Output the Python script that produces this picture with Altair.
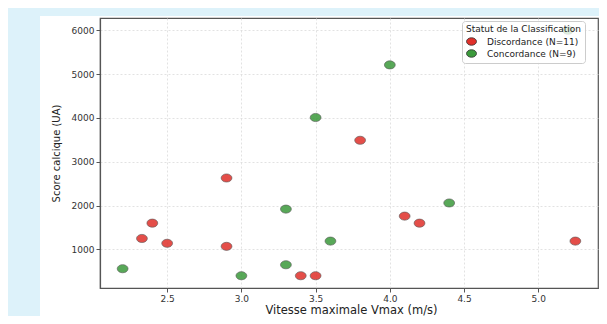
import altair as alt
import pandas as pd

# Data
disc_x = [2.33, 2.40, 2.50, 2.90, 2.90, 3.40, 3.50, 3.80, 4.10, 4.20, 5.25]
disc_y = [1250, 1600, 1140, 2630, 1070, 400, 400, 3490, 1760, 1600, 1190]
conc_x = [2.20, 3.00, 3.30, 3.30, 3.50, 3.60, 4.00, 4.40, 5.20]
conc_y = [560, 400, 1920, 650, 4010, 1190, 5210, 2060, 6000]
groups = ["Discordance (N=11)", "Concordance (N=9)"]
colors = ["#e0302a", "#3b9a3b"]
x_ticks = [2.5, 3.0, 3.5, 4.0, 4.5, 5.0]
y_ticks = [1000, 2000, 3000, 4000, 5000, 6000]

df = pd.DataFrame({
    "vmax": disc_x + conc_x,
    "score": disc_y + conc_y,
    "statut": [groups[0]] * len(disc_x) + [groups[1]] * len(conc_x),
})

ellipse = "M-1,0A1,0.75,0,1,0,1,0A1,0.75,0,1,0,-1,0Z"
W, H = 498, 270
PAD_L, PAD_T, PAD_R, PAD_B = 92, 10, 1, 28
FONT = "DejaVu Sans"
BLUE = "#ddf2fa"

one = pd.DataFrame({"k": [0]})
left_strip = alt.Chart(one).mark_rect(color=BLUE).encode(
    x=alt.value(-PAD_L), x2=alt.value(-60),
    y=alt.value(-PAD_T), y2=alt.value(H + PAD_B),
)
top_strip = alt.Chart(one).mark_rect(color=BLUE).encode(
    x=alt.value(-PAD_L), x2=alt.value(W + PAD_R),
    y=alt.value(-PAD_T), y2=alt.value(-2),
)

points = alt.Chart(df).mark_point(
    filled=True, shape=ellipse, size=118, opacity=0.85,
    stroke="#444", strokeWidth=0.7, strokeOpacity=0.9,
).encode(
    x=alt.X("vmax:Q", scale=alt.Scale(domain=[2.0475, 5.4025], nice=False, zero=False),
            axis=alt.Axis(title="Vitesse maximale Vmax (m/s)", values=x_ticks,
                          format=".1f", titleFontSize=11.5, titleX=W / 2 + 2, titleY=25,
                          titleAlign="center", titleBaseline="alphabetic")),
    y=alt.Y("score:Q", scale=alt.Scale(domain=[120, 6280], nice=False, zero=False),
            axis=alt.Axis(title="Score calcique (UA)", values=y_ticks,
                          format="d", titleFontSize=10, titleX=-44, titleY=H / 2,
                          titleAlign="center", titleBaseline="middle", titleAngle=-90)),
    color=alt.Color("statut:N", sort=groups,
                    scale=alt.Scale(domain=groups, range=colors),
                    legend=alt.Legend(title="Statut de la Classification", orient="none",
                                      legendX=362, legendY=3, symbolType=ellipse)),
)

chart = alt.layer(left_strip, top_strip, points).properties(
    width=W, height=H,
    background="white",
    autosize=alt.AutoSizeParams(type="none"),
    padding={"left": PAD_L, "top": PAD_T, "right": PAD_R, "bottom": PAD_B},
).configure_view(
    stroke="#555", strokeWidth=1.2,
).configure_axis(
    labelFont=FONT, titleFont=FONT, labelFontSize=9, labelColor="#333",
    titleColor="#222", titleFontWeight="normal",
    domainColor="#555", domainWidth=1.2, tickColor="#555", tickSize=4,
    labelPadding=2, grid=True, gridColor="#dadada", gridDash=[2, 2], gridWidth=0.8,
).configure_legend(
    labelFont=FONT, titleFont=FONT, labelFontSize=9, titleFontSize=9,
    titleFontWeight="normal", titleColor="#222", labelColor="#222",
    fillColor="rgba(255,255,255,0.8)", strokeColor="#cccccc", cornerRadius=3,
    padding=4, rowPadding=1, symbolSize=100, symbolOpacity=1,
    symbolStrokeColor="#333", symbolStrokeWidth=0.8, labelOffset=10, titlePadding=2,
)

chart.save("out.html", embed_options={"renderer": "svg", "actions": False})
